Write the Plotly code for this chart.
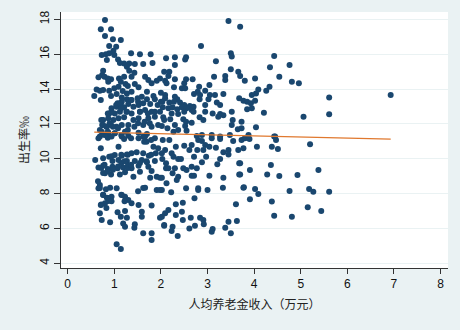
import numpy as np
import plotly.graph_objects as go

# 人均养老金收入（万元）, 出生率‰
income = [
0.80,0.71,0.93,0.80,0.97,1.14,0.89,1.04,0.98,0.73,0.82,0.89,1.00,1.36,1.55,1.78,0.84,1.08,1.12,1.21,
1.32,1.44,1.27,1.62,1.82,0.76,1.32,0.74,0.79,0.66,0.86,0.93,1.43,1.37,1.21,1.10,1.66,1.73,1.91,1.98,
0.87,1.14,1.24,1.80,0.62,0.69,0.76,0.89,1.00,1.09,1.18,1.29,1.44,1.52,0.57,0.71,0.93,1.05,1.16,1.27,
1.37,1.70,1.84,2.00,2.09,1.07,1.16,1.27,1.37,1.50,1.59,1.70,1.87,0.94,1.05,1.14,1.21,1.30,1.41,1.52,
1.62,1.77,1.93,2.03,0.89,1.01,1.12,1.27,1.37,1.55,1.66,1.80,1.98,0.76,0.87,0.98,1.09,1.21,1.41,1.52,
1.73,1.87,2.05,0.74,0.84,0.93,1.05,1.16,1.30,1.43,1.62,1.80,1.94,0.73,0.87,1.01,1.23,1.52,1.70,0.69,
1.16,1.52,
0.66,0.86,1.21,1.30,1.66,1.87,1.09,0.71,1.64,1.84,1.94,0.59,0.76,0.89,1.01,1.16,1.27,1.37,1.48,1.62,
1.74,1.89,0.96,1.09,1.27,1.44,1.59,1.70,1.87,2.03,0.66,0.76,0.86,0.96,1.07,1.19,1.29,1.37,1.52,1.73,
1.80,0.80,0.93,1.12,1.23,1.41,1.55,1.91,1.77,1.98,0.66,0.69,0.82,0.91,1.05,1.66,1.91,2.02,0.76,0.84,
0.94,1.16,1.23,1.30,1.37,0.71,0.80,0.87,1.52,1.80,0.69,1.07,1.23,1.59,1.14,1.27,1.59,1.98,0.73,0.91,
1.19,1.44,1.23,1.43,2.07,1.62,1.80,1.80,1.05,1.14,
0.72,0.76,0.83,0.90,0.97,1.08,0.86,0.94,1.04,1.12,1.15,1.26,0.69,0.86,1.01,1.15,0.79,0.94,1.36,1.62,
1.69,1.79,1.29,1.36,1.51,1.55,1.72,1.87,1.51,1.65,1.76,
0.72,0.79,0.76,0.86,0.97,1.08,1.15,1.22,1.29,1.36,1.55,1.69,1.79,1.29,1.15,0.94,0.76,0.86,0.94,0.72,
0.83,1.15,1.22,0.69,0.65,1.51,1.62,
3.45,3.70,2.86,2.11,2.30,2.54,2.52,3.50,3.52,3.18,2.30,2.07,2.18,2.16,2.30,2.54,2.68,2.09,2.12,2.50,
3.14,3.38,3.38,3.50,3.66,3.70,2.28,2.45,2.52,2.82,3.04,2.95,2.79,2.84,3.05,3.16,3.34,2.71,2.09,2.30,
2.35,3.02,2.83,3.68,3.77,2.00,2.18,2.28,2.41,2.50,2.62,2.70,2.95,3.20,3.27,2.04,2.16,2.25,2.35,2.45,
2.55,2.66,2.23,2.37,2.50,2.70,2.95,3.11,3.27,3.34,3.52,2.07,2.20,2.48,2.54,2.66,2.83,2.91,3.23,3.54,
2.30,2.02,2.14,2.52,3.52,3.65,3.73,2.27,2.37,2.55,2.77,2.88,3.09,3.27,3.48,
2.04,2.18,2.80,2.88,3.09,3.27,3.55,3.73,2.09,2.02,2.23,2.27,2.32,2.50,2.61,2.66,2.78,2.91,2.95,3.04,
3.18,3.34,3.45,3.45,3.66,2.37,2.43,2.71,2.97,3.27,3.21,2.88,2.11,2.11,2.16,2.30,2.48,2.55,2.66,2.77,
3.68,2.25,2.37,2.66,2.71,3.04,3.68,2.02,3.34,2.34,2.12,2.54,2.80,2.80,3.00,3.33,3.77,1.98,2.22,2.72,
2.32,2.47,3.61,2.16,2.09,2.32,2.45,2.02,2.64,2.84,2.91,2.47,3.45,3.63,2.07,2.25,2.23,2.61,2.73,2.92,
3.11,3.09,3.38,3.50,2.36,
4.43,4.76,4.34,4.54,4.81,4.96,3.80,4.02,4.33,4.26,4.09,4.04,3.95,3.85,3.93,4.02,3.85,3.95,4.21,5.06,
3.73,4.04,3.88,3.80,4.43,
3.82,3.90,4.45,4.47,3.77,4.06,4.38,4.51,5.20,3.70,3.91,4.36,3.70,4.28,4.54,4.93,5.38,3.78,4.02,4.09,
3.91,4.76,5.18,5.27,4.38,5.15,5.44,4.43,4.81,
5.61,6.93,5.61,5.61,
]
birth_rate = [
17.96,17.43,17.43,17.04,16.85,16.81,16.47,16.43,16.20,15.95,16.00,16.05,15.95,16.05,16.00,16.00,15.67,15.70,15.50,15.47,
15.47,15.43,15.28,15.43,15.50,15.05,15.05,14.80,14.71,14.67,14.61,14.56,14.94,14.71,14.71,14.61,14.71,14.52,14.48,14.61,
14.42,14.42,14.29,14.33,13.98,13.90,13.94,13.90,14.04,14.13,13.88,14.17,14.29,14.10,13.60,13.37,13.60,13.71,13.52,13.75,
13.85,13.85,13.60,13.79,13.66,13.18,13.27,13.41,13.37,13.47,13.56,13.41,13.41,12.90,12.99,13.08,12.95,13.14,12.99,13.08,
13.18,13.14,13.08,13.27,12.60,12.60,12.70,12.70,12.60,12.70,12.80,12.70,12.70,12.22,12.32,12.22,12.32,12.38,12.22,12.32,
12.32,12.41,12.38,11.94,11.84,11.94,11.84,11.94,11.94,11.84,11.94,11.84,11.94,11.55,11.49,11.46,11.55,11.49,11.42,11.27,
11.27,11.17,
11.17,11.21,11.13,11.32,11.27,11.17,10.69,10.60,10.98,10.69,10.60,9.93,10.03,10.12,10.21,10.17,10.25,10.31,10.37,10.31,
10.17,10.31,9.87,9.93,9.87,9.87,9.93,9.80,9.87,9.99,9.49,9.60,9.41,9.54,9.45,9.49,9.60,9.45,9.60,9.54,
9.30,9.16,9.10,9.10,9.22,8.97,9.26,8.97,8.91,8.91,8.30,8.49,8.25,8.33,8.30,8.33,8.21,8.21,7.92,7.76,
7.82,7.92,7.82,7.63,7.44,7.35,7.44,7.57,7.35,7.31,6.87,6.93,7.00,6.96,6.67,6.62,6.67,6.62,6.49,6.35,
6.29,6.24,6.10,6.04,6.20,5.72,5.72,5.34,5.09,4.82,
12.22,11.94,11.84,12.03,11.84,11.75,12.60,12.70,13.08,13.18,12.90,12.70,11.65,11.55,11.46,11.36,11.36,11.27,11.17,11.27,
10.98,11.07,11.65,13.37,13.27,12.70,12.60,12.70,12.03,12.12,12.03,
9.47,9.66,9.18,9.28,9.37,9.56,9.75,9.85,9.47,9.66,9.75,9.85,10.23,10.23,10.23,10.14,7.93,7.75,7.56,7.37,
7.18,7.93,7.56,8.32,8.71,8.14,8.32,
17.90,17.58,16.47,15.76,15.82,15.82,15.70,16.05,15.86,15.60,15.38,14.99,14.99,14.75,14.56,14.56,14.56,14.48,14.33,14.33,
14.71,14.75,14.52,15.13,14.99,14.75,14.10,14.04,14.04,14.13,14.23,13.90,13.85,13.66,13.66,13.66,13.71,13.71,13.47,13.56,
13.41,13.41,13.41,13.47,13.33,13.27,13.22,13.27,13.22,13.08,13.03,12.99,13.08,13.22,13.08,12.95,12.90,12.95,12.84,12.95,
12.90,12.80,12.60,12.57,12.70,12.70,12.70,12.60,12.57,12.50,12.70,12.22,12.26,12.26,12.12,12.07,12.38,12.22,12.41,12.22,
11.94,11.88,11.75,11.88,11.94,11.69,12.12,11.55,11.65,11.61,11.30,11.36,11.36,11.27,11.36,
11.07,11.07,11.07,11.02,11.17,11.13,11.02,11.07,10.50,10.31,10.31,10.12,10.69,10.75,10.50,10.79,10.50,10.50,10.79,10.69,
10.63,10.37,10.50,10.25,10.50,9.99,9.99,10.12,10.12,9.99,9.68,9.80,9.74,9.45,9.45,9.45,9.45,9.36,9.54,9.45,
9.74,9.16,8.97,9.03,9.03,9.03,9.10,8.91,8.91,8.78,8.59,8.30,8.30,8.21,8.21,8.34,8.34,8.21,8.07,7.73,
7.39,7.48,7.39,7.06,6.87,6.77,6.96,6.67,6.62,6.62,6.49,6.49,6.39,6.43,6.16,6.10,5.85,6.00,6.16,6.24,
5.97,5.81,6.04,5.72,5.57,
15.90,15.38,15.25,14.71,14.42,14.33,14.48,14.61,14.13,13.90,13.98,13.75,13.66,13.27,13.18,13.33,12.84,12.90,12.64,12.41,
11.75,11.80,11.36,11.17,11.27,
11.21,11.13,11.27,11.07,10.60,10.69,10.69,10.56,10.83,9.74,9.36,9.64,9.10,9.10,9.01,9.07,9.36,8.36,8.26,7.98,
7.67,8.15,8.26,8.11,7.54,7.21,7.00,6.73,6.67,
13.52,13.66,12.55,8.11,
]

# linear-fit line (intercept, slope)
fit_intercept = 11.565
fit_slope = -0.0628

x_arr = np.array(income)
fit_x = np.array([x_arr.min(), x_arr.max()])
fit_y = fit_intercept + fit_slope * fit_x

font_main = "Liberation Sans, Arial, Noto Sans CJK SC, sans-serif"
font_cjk = "Noto Sans CJK SC, sans-serif"

fig = go.Figure()
fig.add_trace(go.Scatter(
    x=income, y=birth_rate, mode="markers",
    marker=dict(size=6, color="#1a476f", line=dict(width=0)),
    showlegend=False, hoverinfo="skip"))
fig.add_trace(go.Scatter(
    x=fit_x, y=fit_y, mode="lines",
    line=dict(color="#e0782e", width=1.3),
    showlegend=False, hoverinfo="skip"))

fig.update_layout(
    width=460, height=330,
    margin=dict(l=61, r=12, t=12, b=62, autoexpand=False),
    paper_bgcolor="#eaf2f3", plot_bgcolor="#ffffff",
    font=dict(family=font_main, size=12, color="#111111"),
    xaxis=dict(
        range=[-0.144, 8.16], tickvals=[0, 1, 2, 3, 4, 5, 6, 7, 8],
        showgrid=False, zeroline=False, automargin=False,
        showline=True, linecolor="#333333", linewidth=1,
        ticks="outside", ticklen=5, tickcolor="#333333",
        tickfont=dict(size=12),
        title=dict(text="人均养老金收入（万元）", standoff=10,
                   font=dict(size=12, family=font_cjk, color="#222222")),
    ),
    yaxis=dict(
        range=[3.73, 18.42], tickvals=[4, 6, 8, 10, 12, 14, 16, 18],
        showgrid=True, gridcolor="#eaf2f3", gridwidth=1, zeroline=False, automargin=False,
        showline=True, linecolor="#333333", linewidth=1,
        ticks="outside", ticklen=6, tickcolor="#333333",
        tickangle=-90, tickfont=dict(size=12),
        title=dict(text="出生率‰", standoff=6,
                   font=dict(size=12, family=font_cjk, color="#222222")),
    ),
)

fig.write_html(
    "out.html",
    config={"displayModeBar": False},
    post_script="document.body.style.margin='0';document.body.style.background='#eaf2f3';",
)
